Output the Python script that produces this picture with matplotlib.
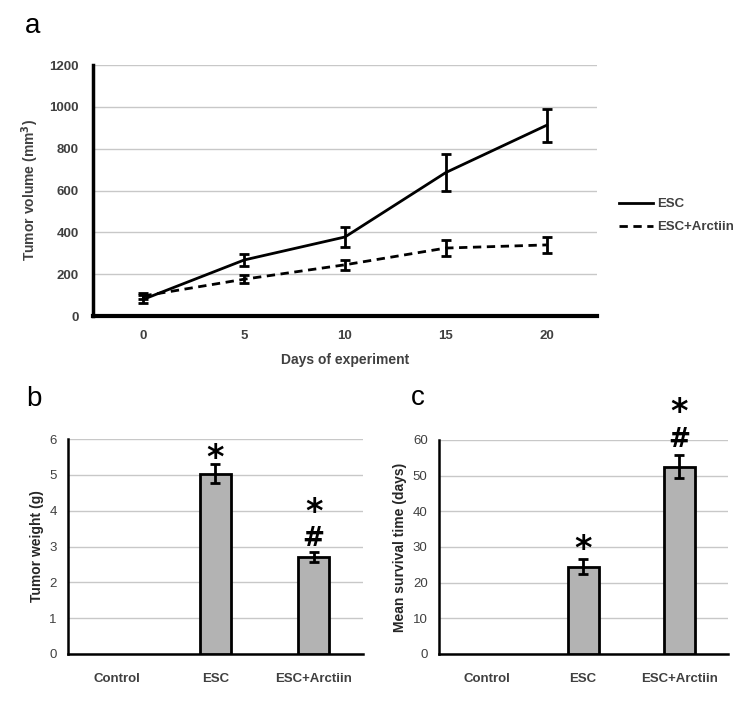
import matplotlib.pyplot as plt
from matplotlib.lines import Line2D
import numpy as np

plt.rcParams['font.family'] = ['Liberation Sans', 'DejaVu Sans']

# Panel a: tumor volume over time
days = [0, 5, 10, 15, 20]
esc_vol = [80, 268, 378, 686, 912]
esc_vol_err = [20, 30, 50, 88, 78]
arc_vol = [96, 176, 245, 325, 340]
arc_vol_err = [15, 20, 25, 37, 37]

# Panels b, c: bars
groups = ['Control', 'ESC', 'ESC+Arctiin']
weight = [0, 5.03, 2.7]
weight_err = [0, 0.27, 0.14]
survival = [0, 24.5, 52.5]
survival_err = [0, 2.1, 3.2]

fig = plt.figure(figsize=(7.5, 7.07), dpi=100)

# --- panel a ---
ax = fig.add_axes([0.124, 0.553, 0.672, 0.355])
ax.errorbar(days, esc_vol, yerr=esc_vol_err, color='black', lw=2,
            capsize=3.5, capthick=2, elinewidth=2)
ax.errorbar(days, arc_vol, yerr=arc_vol_err, color='black', lw=2, ls='--',
            dashes=(3, 2), capsize=3.5, capthick=2, elinewidth=2)
ax.set_xlim(-2.5, 22.5)
ax.set_ylim(0, 1200)
ax.set_xticks(days)
ax.set_yticks(np.arange(0, 1201, 200))
ax.grid(axis='y', color='#c8c8c8', lw=1)
ax.set_axisbelow(True)
for s in ['top', 'right']:
    ax.spines[s].set_visible(False)
ax.spines['left'].set_linewidth(2.5)
ax.spines['bottom'].set_linewidth(3)
ax.tick_params(length=0, labelsize=9.5, labelcolor='#404040', pad=10)
for t in ax.get_xticklabels() + ax.get_yticklabels():
    t.set_fontweight('bold')
ax.set_ylabel('Tumor volume (mm$^\\mathbf{3}$)', fontsize=10, fontweight='bold',
              color='#404040', labelpad=6)
ax.set_xlabel('Days of experiment', fontsize=10, fontweight='bold',
              color='#404040', labelpad=8)
handles = [Line2D([], [], color='black', lw=2),
           Line2D([], [], color='black', lw=2, ls='--', dashes=(3, 2))]
leg = ax.legend(handles, ['ESC', 'ESC+Arctiin'], loc='center left',
                bbox_to_anchor=(1.02, 0.4), frameon=False,
                handlelength=2.6, handletextpad=0.3, labelspacing=0.8,
                prop={'weight': 'bold', 'size': 9.5})
for t in leg.get_texts():
    t.set_color('#404040')
fig.text(0.033, 0.963, 'a', fontsize=20, va='center')


def bar_panel(rect, vals, errs, ylim, yticks, ylabel, marks, letter, lpos):
    ax = fig.add_axes(rect)
    x = np.arange(len(groups))
    ax.bar(x[1:], vals[1:], width=0.32, color='#b3b3b3', edgecolor='black',
           lw=2, zorder=3)
    ax.errorbar(x[1:], vals[1:], yerr=errs[1:], fmt='none', ecolor='black',
                elinewidth=2, capsize=3.5, capthick=2, zorder=4)
    ax.set_xlim(-0.5, 2.5)
    ax.set_ylim(*ylim)
    ax.set_xticks(x)
    ax.set_xticklabels(groups, fontweight='bold', fontsize=10.5, color='#262626')
    ax.set_yticks(yticks)
    ax.grid(axis='y', color='#c8c8c8', lw=1)
    ax.set_axisbelow(True)
    for s in ['top', 'right']:
        ax.spines[s].set_visible(False)
    ax.spines['left'].set_linewidth(1.8)
    ax.spines['bottom'].set_linewidth(1.8)
    ax.tick_params(length=0, labelsize=9.5, labelcolor='#404040')
    ax.tick_params(axis='x', pad=14)
    ax.tick_params(axis='y', pad=8)
    ax.set_ylabel(ylabel, fontsize=10, fontweight='bold', color='#262626')
    for i, txt, yv in marks:
        size = 24 if txt == '*' else 19
        ax.text(i, yv, txt, ha='center', va='center', fontsize=size,
                fontweight='bold', family='DejaVu Sans', clip_on=False)
    fig.text(lpos[0], lpos[1], letter, fontsize=20, va='center')
    return ax


bar_panel([0.0907, 0.075, 0.393, 0.304], weight, weight_err, (0, 6),
          range(0, 7), 'Tumor weight (g)',
          [(1, '*', 5.47), (2, '*', 3.95), (2, '#', 3.2)],
          'b', (0.035, 0.435))
bar_panel([0.585, 0.075, 0.385, 0.3027], survival, survival_err, (0, 60),
          range(0, 61, 10), 'Mean survival time (days)',
          [(1, '*', 29.2), (2, '*', 67.7), (2, '#', 60.0)],
          'c', (0.548, 0.437))

fig.savefig('out.png', dpi=100)
